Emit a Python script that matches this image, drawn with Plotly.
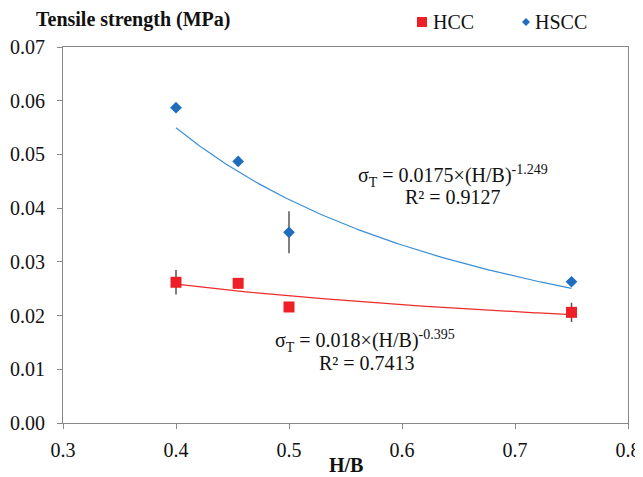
import numpy as np
import plotly.graph_objects as go

# ---- data ----
hb = [0.4, 0.455, 0.5, 0.75]
hcc = [0.0262, 0.0260, 0.0216, 0.0206]
hcc_err = [0.0023, 0.0010, 0.0004, 0.0018]
hscc = [0.0587, 0.0487, 0.0355, 0.0263]
hscc_err = [0.0004, 0.0004, 0.0039, 0.0004]

# power-law trend lines (coefficients as shown on the chart)
hcc_a, hcc_b = 0.018, -0.395
hscc_a, hscc_b = 0.0175, -1.249

series_names = ["HCC", "HSCC"]
x_ticks = [0.3, 0.4, 0.5, 0.6, 0.7, 0.8]
y_ticks = [0.00, 0.01, 0.02, 0.03, 0.04, 0.05, 0.06, 0.07]

RED = "#ee1f26"
BLUE = "#1f6dbf"
RED_LINE = "#ee2b2b"
BLUE_LINE = "#3b8fd6"
AXIS = "#888888"
FONT = "Liberation Serif"
TXT = "#111111"

xs = np.linspace(min(hb), max(hb), 120)

fig = go.Figure()

fig.add_trace(go.Scatter(x=xs, y=hscc_a * xs ** hscc_b, mode="lines",
                         line=dict(color=BLUE_LINE, width=1.2),
                         showlegend=False, hoverinfo="skip"))
fig.add_trace(go.Scatter(x=xs, y=hcc_a * xs ** hcc_b, mode="lines",
                         line=dict(color=RED_LINE, width=1.2),
                         showlegend=False, hoverinfo="skip"))

fig.add_trace(go.Scatter(
    x=hb, y=hcc, mode="markers", name=series_names[0], showlegend=False,
    marker=dict(symbol="square", size=11, color=RED),
    error_y=dict(type="data", array=hcc_err, visible=True,
                 color="#555555", thickness=1.5, width=0),
))
fig.add_trace(go.Scatter(
    x=hb, y=hscc, mode="markers", name=series_names[1], showlegend=False,
    marker=dict(symbol="diamond", size=9, color=BLUE),
    error_y=dict(type="data", array=hscc_err, visible=True,
                 color="#555555", thickness=1.5, width=0),
))

# page body has an 8px default margin: compensate so the plot lands where the reference has it
OFF = 8
VW, VH = 643, 477
PL, PR, PT, PB = 63, 628, 47, 423          # plot area in viewport pixels
W, H = VW - OFF, VH - OFF
L, T = PL - OFF, PT - OFF
R, B = W - (PR - OFF), H - (PB - OFF)
pw, ph = PR - PL, PB - PT

def px_x(p):
    return (p - PL) / pw

def px_y(p):
    return (PB - p) / ph

axis_common = dict(showline=True, linecolor=AXIS, linewidth=1.2, mirror=True,
                   ticks="outside", ticklen=5, tickcolor=AXIS, tickwidth=1.2,
                   showgrid=False, zeroline=False, automargin=False,
                   tickfont=dict(family=FONT, size=20, color=TXT))

fig.update_layout(
    width=W, height=H,
    margin=dict(l=L, r=R, t=T, b=B),
    paper_bgcolor="white", plot_bgcolor="white",
    font=dict(family=FONT, size=19, color=TXT),
    xaxis=dict(range=[0.3, 0.8], tickvals=x_ticks, ticklabelstandoff=4,
               ticktext=[f"{v:.1f}" for v in x_ticks], **axis_common),
    yaxis=dict(range=[0, 0.07], tickvals=y_ticks, ticklabelstandoff=8,
               ticktext=[f"{v:.2f}" for v in y_ticks], **axis_common),
    showlegend=False,
)

# manual legend (symbol shapes + text)
ly = 22
fig.add_shape(type="rect", xref="paper", yref="paper",
              x0=px_x(417), x1=px_x(427), y0=px_y(ly + 5), y1=px_y(ly - 5),
              fillcolor=RED, line=dict(width=0))
dx, dy = 4, 4
path = (f"M {px_x(526 - dx)} {px_y(ly)} L {px_x(526)} {px_y(ly - dy)} "
        f"L {px_x(526 + dx)} {px_y(ly)} L {px_x(526)} {px_y(ly + dy)} Z")
fig.add_shape(type="path", xref="paper", yref="paper", path=path,
              fillcolor=BLUE, line=dict(width=0))

annots = [
    dict(text=series_names[0], x=px_x(431), y=px_y(ly), xanchor="left", size=20),
    dict(text=series_names[1], x=px_x(533), y=px_y(ly), xanchor="left", size=20),
    dict(text="<b>Tensile strength (MPa)</b>", x=px_x(34), y=px_y(20),
         xanchor="left", size=20),
    dict(text="<b>H/B</b>", x=px_x(346), y=px_y(465), xanchor="center", size=20),
    dict(text="σ<sub>T</sub> = 0.0175×(H/B)<sup>-1.249</sup>", x=px_x(453), y=px_y(176),
         xanchor="center", size=20),
    dict(text="R² = 0.9127", x=px_x(453), y=px_y(197), xanchor="center", size=20),
    dict(text="σ<sub>T</sub> = 0.018×(H/B)<sup>-0.395</sup>", x=px_x(365), y=px_y(341),
         xanchor="center", size=20),
    dict(text="R² = 0.7413", x=px_x(367), y=px_y(363), xanchor="center", size=20),
]
for a in annots:
    fig.add_annotation(text=a["text"], x=a["x"], y=a["y"], xref="paper", yref="paper",
                       xanchor=a["xanchor"], yanchor="middle", showarrow=False,
                       font=dict(family=FONT, size=a["size"], color=TXT))

fig.write_html("out.html")
